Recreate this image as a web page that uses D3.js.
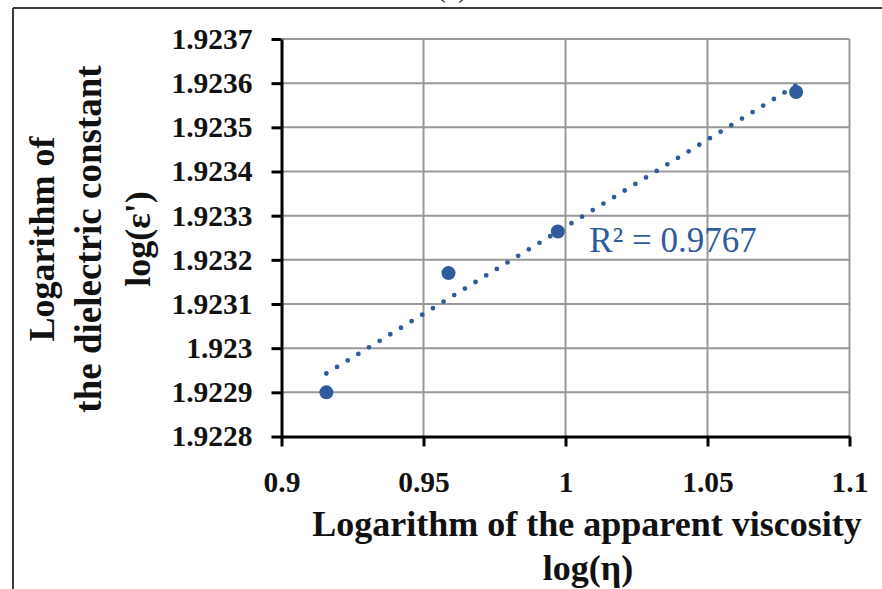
<!DOCTYPE html>
<html>
<head>
<meta charset="utf-8">
<script src="https://cdn.jsdelivr.net/npm/d3@7"></script>
<style>
  html, body { margin: 0; padding: 0; background: #fff; }
  svg { display: block; }
  text { font-family: "Liberation Serif", "Times New Roman", serif; }
</style>
</head>
<body>
<svg id="chart" width="882" height="589"></svg>
<script>
// Measured samples: log of apparent viscosity vs log of dielectric constant
const logViscosity = [0.9158, 0.9588, 0.9973, 1.0812];
const logDielectric = [1.92290, 1.923170, 1.923264, 1.923580];

const xTicks = [0.9, 0.95, 1, 1.05, 1.1];
const xTickLabels = ["0.9", "0.95", "1", "1.05", "1.1"];
const yTicks = [1.9228, 1.9229, 1.9230, 1.9231, 1.9232, 1.9233, 1.9234, 1.9235, 1.9236, 1.9237];
const yTickLabels = ["1.9228", "1.9229", "1.923", "1.9231", "1.9232", "1.9233", "1.9234", "1.9235", "1.9236", "1.9237"];

const rSquaredLabel = "R\u00B2 = 0.9767";
const xTitle = ["Logarithm of the apparent viscosity", "log(\u03B7)"];
const yTitle = ["Logarithm of", "the dielectric constant", "log(\u03B5')"];

const blue = "#2f5b9c";

const svg = d3.select("#chart");

const plot = { left: 281.5, top: 39, right: 849.5, bottom: 436.5 };

const x = d3.scaleLinear().domain([0.9, 1.1]).range([plot.left, plot.right]);
const y = d3.scaleLinear().domain([1.9228, 1.9237]).range([plot.bottom, plot.top]);

// Outer frame (only top and left edges fall inside the view)
svg.append("line").attr("x1", 13).attr("x2", 882).attr("y1", 8).attr("y2", 8)
  .attr("stroke", "#3a3a3a").attr("stroke-width", 2);
svg.append("line").attr("x1", 13).attr("x2", 13).attr("y1", 8).attr("y2", 589)
  .attr("stroke", "#3a3a3a").attr("stroke-width", 2);

// Panel label, mostly above the view
svg.append("text").attr("x", 452).attr("y", -3)
  .attr("text-anchor", "middle").attr("font-size", 28).attr("fill", "#222")
  .text("(a)");

// Gridlines
const grid = svg.append("g").attr("stroke", "#999").attr("stroke-width", 2);
grid.selectAll("line.h").data(yTicks.slice(1)).join("line")
  .attr("class", "h")
  .attr("x1", plot.left).attr("x2", plot.right)
  .attr("y1", d => y(d)).attr("y2", d => y(d));
grid.selectAll("line.v").data(xTicks.slice(1)).join("line")
  .attr("class", "v")
  .attr("x1", d => x(d)).attr("x2", d => x(d))
  .attr("y1", plot.top).attr("y2", plot.bottom);

// Axes
const xAxis = d3.axisBottom(x)
  .tickValues(xTicks)
  .tickFormat((d, i) => xTickLabels[i])
  .tickSize(10).tickSizeOuter(0).tickPadding(25);
const yAxis = d3.axisLeft(y)
  .tickValues(yTicks)
  .tickFormat((d, i) => yTickLabels[i])
  .tickSize(10).tickSizeOuter(0).tickPadding(19);

const gx = svg.append("g").attr("transform", `translate(0,${plot.bottom})`).call(xAxis);
const gy = svg.append("g").attr("transform", `translate(${plot.left},0)`).call(yAxis);

[gx, gy].forEach(g => {
  g.select(".domain").attr("stroke", "#000").attr("stroke-width", 3);
  g.selectAll(".tick line").attr("stroke", "#000").attr("stroke-width", 3);
  g.selectAll(".tick text")
    .attr("font-family", "'Liberation Serif', serif")
    .attr("font-weight", "bold")
    .attr("font-size", 29.5)
    .attr("fill", "#111");
});

// Least-squares trendline over the data range
const n = logViscosity.length;
const mx = d3.mean(logViscosity), my = d3.mean(logDielectric);
let sxy = 0, sxx = 0;
for (let i = 0; i < n; i++) {
  sxy += (logViscosity[i] - mx) * (logDielectric[i] - my);
  sxx += (logViscosity[i] - mx) ** 2;
}
const slope = sxy / sxx;
const intercept = my - slope * mx;
const xr = d3.extent(logViscosity);
const trend = xr.map(v => [v, intercept + slope * v]);

svg.append("path")
  .datum(trend)
  .attr("d", d3.line().x(d => x(d[0])).y(d => y(d[1])))
  .attr("fill", "none")
  .attr("stroke", blue)
  .attr("stroke-width", 4.8)
  .attr("stroke-linecap", "round")
  .attr("stroke-dasharray", "0 12.5");

// Data markers
svg.selectAll("circle.pt")
  .data(logViscosity.map((v, i) => [v, logDielectric[i]]))
  .join("circle")
  .attr("class", "pt")
  .attr("cx", d => x(d[0]))
  .attr("cy", d => y(d[1]))
  .attr("r", 7)
  .attr("fill", blue);

// R-squared annotation
svg.append("text")
  .attr("x", x(1.0084)).attr("y", y(1.923217))
  .attr("font-size", 35)
  .attr("fill", blue)
  .text(rSquaredLabel);

// Axis titles
const titleStyle = sel => sel
  .attr("font-weight", "bold")
  .attr("font-size", 36)
  .attr("fill", "#111")
  .attr("text-anchor", "middle");

svg.append("text").call(titleStyle)
  .attr("x", 587).attr("y", 536).text(xTitle[0]);
svg.append("text").call(titleStyle)
  .attr("x", 588).attr("y", 580).text(xTitle[1]);

const yCols = [41.7, 88, 137];
yTitle.forEach((t, i) => {
  svg.append("text").call(titleStyle)
    .attr("font-size", i === 1 ? 37 : 36)
    .attr("transform", `translate(${yCols[i]},239) rotate(-90)`)
    .attr("dy", "0.35em")
    .text(t);
});
</script>
</body>
</html>
